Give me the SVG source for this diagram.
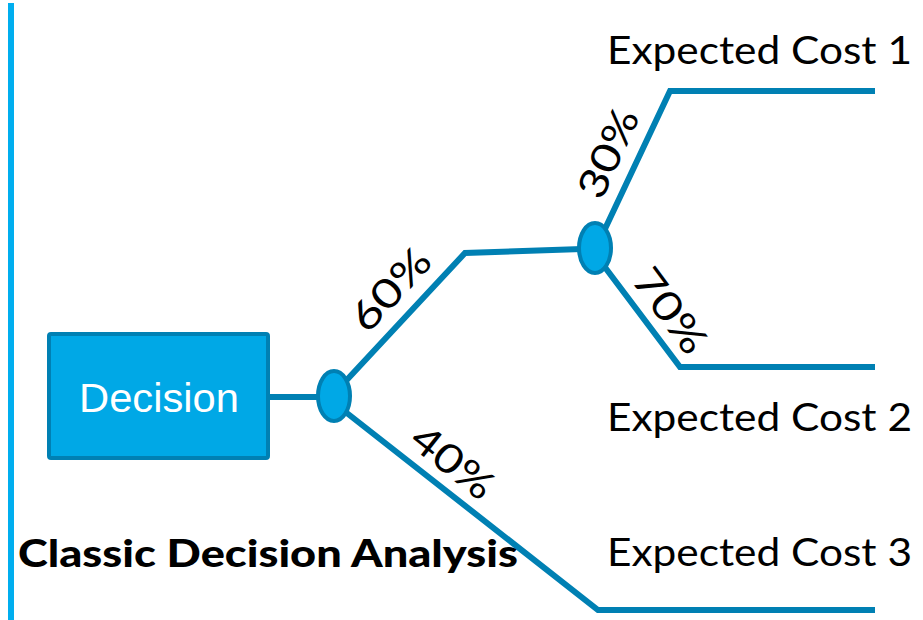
<svg xmlns="http://www.w3.org/2000/svg" width="923" height="620" viewBox="0 0 923 620">
  <style>
    .edge { fill: none; stroke: #0080B3; stroke-width: 6; stroke-linejoin: miter; }
    .chance { fill: #00A8E6; stroke: #0080B3; stroke-width: 4; }
    .label { font-family: Lato, "Liberation Sans", sans-serif; font-size: 39px; fill: #000; }
    .pct { font-family: Lato, "Liberation Sans", sans-serif; font-size: 40px; fill: #000; text-anchor: middle; }
  </style>
  <rect width="923" height="620" fill="#fff"/>
  <!-- accent rule on the left edge -->
  <rect x="8" y="3" width="6" height="617" fill="#00AEEF"/>

  <g id="connectors">
    <line class="edge" x1="269" y1="397" x2="320" y2="397"/>
    <polyline class="edge" points="343,384 465,253 582,249"/>
    <polyline class="edge" points="604,231 670,91 875,91"/>
    <polyline class="edge" points="604,266 680,367 875,367"/>
    <polyline class="edge" points="343,410 598,610 875,610"/>
  </g>

  <g id="decision">
    <rect x="49" y="334" width="219" height="124" rx="2" fill="#00A8E6" stroke="#0080B3" stroke-width="4"/>
    <text x="159" y="412" text-anchor="middle" font-family="'Liberation Sans', Arial, sans-serif" font-size="41" fill="#fff" textLength="160" lengthAdjust="spacingAndGlyphs">Decision</text>
  </g>

  <g id="chance1">
    <ellipse class="chance" cx="334" cy="396" rx="16" ry="25"/>
  </g>
  <g id="chance2">
    <ellipse class="chance" cx="595" cy="248" rx="16" ry="25"/>
  </g>

  <g id="p60">
    <text class="pct" transform="translate(401,299) rotate(-47)" textLength="98" lengthAdjust="spacingAndGlyphs">60%</text>
  </g>
  <g id="p40">
    <text class="pct" transform="translate(444,473) rotate(38.6)" textLength="94" lengthAdjust="spacingAndGlyphs">40%</text>
  </g>
  <g id="p30">
    <text class="pct" transform="translate(621,159) rotate(-65.5)" textLength="94" lengthAdjust="spacingAndGlyphs">30%</text>
  </g>
  <g id="p70">
    <text class="pct" transform="translate(659,319) rotate(53.4)" textLength="96" lengthAdjust="spacingAndGlyphs">70%</text>
  </g>

  <g id="cost1">
    <text class="label" x="607" y="64" textLength="305" lengthAdjust="spacingAndGlyphs">Expected Cost 1</text>
  </g>
  <g id="cost2">
    <text class="label" x="607" y="431" textLength="305" lengthAdjust="spacingAndGlyphs">Expected Cost 2</text>
  </g>
  <g id="cost3">
    <text class="label" x="607" y="566" textLength="305" lengthAdjust="spacingAndGlyphs">Expected Cost 3</text>
  </g>

  <g id="title">
    <text x="18" y="567" font-family="Lato, 'Liberation Sans', sans-serif" font-weight="900" font-size="38" fill="#000" textLength="500" lengthAdjust="spacingAndGlyphs">Classic Decision Analysis</text>
  </g>
</svg>
